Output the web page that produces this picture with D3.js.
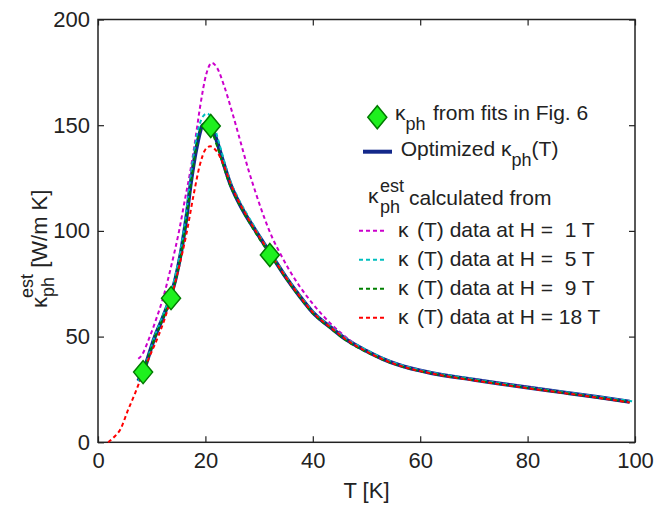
<!DOCTYPE html>
<html>
<head>
<meta charset="utf-8">
<script src="https://cdn.jsdelivr.net/npm/d3@7"></script>
<style>
  body { margin: 0; background: #fff; }
  text { font-family: "Liberation Sans", Arial, Helvetica, sans-serif; fill: #222; }
</style>
</head>
<body>
<div class="chart"></div>
<script>
var width = 669
var height = 505

// temperatures (K) and kappa values (W/m K)
const optT = [7.5, 8.4, 10.6, 12, 13.4, 14.5, 15.6, 16.5, 17.3, 18.4, 19.5, 20.5, 21.8, 23.2, 24.6, 26, 27.5, 29, 30.5, 32.3, 35, 37.6, 40, 43.5, 46, 50, 53, 56, 62, 70, 75, 80, 87, 93, 99]
const optK = [29, 33.4, 50, 58.5, 68, 78, 92, 107, 123, 140, 150, 151, 145, 133.5, 122.5, 114.5, 107.5, 101.5, 95.5, 88.5, 78, 69, 61.5, 54, 49, 43.2, 39.5, 36.6, 32.8, 29.6, 27.7, 25.9, 23.5, 21.4, 19.2]

const h1T = [7.5, 8.1, 9.5, 10.8, 12.2, 13.6, 15.1, 16.2, 17.1, 18, 19, 20.2, 21.2, 22.2, 23.5, 25, 26.5, 28, 29.5, 31, 32.6, 34, 35.5, 37.6, 40, 43.8, 48.2, 51.9, 56, 60, 65, 70, 75, 80, 87, 93, 99]
const h1K = [39.5, 41, 49, 58, 69, 83, 100, 115, 127, 141, 158.5, 174.5, 179.5, 177, 168.5, 156, 142.5, 129, 117, 106, 96, 89, 82, 73.6, 65.5, 55, 46, 40.8, 36.9, 34.1, 31.5, 29.8, 27.9, 26.1, 23.6, 21.5, 19.3]

const h5T = [7.5, 8.4, 10.6, 12, 13.4, 14.5, 15.6, 16.5, 17.3, 18.4, 19.5, 20.3, 21.2, 22.5, 24.6, 26, 27.5, 29, 30.5, 32.3, 35, 37.6, 40, 43.5, 46, 50, 53, 56, 62, 70, 75, 80, 87, 93, 99.5]
const h5K = [29, 33.5, 50.5, 59.5, 69, 80, 94, 110, 127, 145, 154, 155.5, 153, 142, 124, 116, 109, 102.5, 96, 89, 78.5, 69.5, 62, 54.5, 49.5, 43.7, 39.9, 36.9, 33.1, 29.9, 27.9, 26.1, 23.7, 21.6, 19.4]

const h9T = [8, 8.4, 10.6, 12, 13.4, 14.5, 15.6, 16.5, 17.3, 18.4, 19.5, 20.3, 21.2, 22.2, 24.6, 26, 27.5, 29, 30.5, 32.3, 35, 37.6, 40, 43.5, 46, 50, 53, 56, 62, 70, 75, 80, 87, 93, 99]
const h9K = [31, 33.2, 49.5, 58, 67.5, 77, 91, 106, 122, 141, 150, 151, 147, 140, 121.5, 114, 107, 100.5, 94.5, 88, 77.5, 68.5, 61, 53.5, 48.5, 42.7, 39.1, 36.3, 32.6, 29.4, 27.5, 25.7, 23.3, 21.2, 19]

const h18T = [1.9, 3, 4.1, 5.6, 6.9, 8.4, 9.5, 11.2, 12.5, 13.8, 15, 16.5, 17.8, 19, 20, 20.9, 22, 23.6, 24.6, 26, 27.5, 29, 30.5, 32.3, 35, 37.6, 40, 43.5, 46, 50, 53, 56, 62, 70, 75, 80, 87, 93, 99]
const h18K = [0, 2.5, 5.8, 15.3, 23.2, 33, 40, 50, 59, 70, 82, 99, 117, 131.5, 138.5, 140, 138, 130, 123, 115, 108, 101.5, 95.5, 88.5, 78, 69, 61.5, 54, 49, 43, 39.3, 36.4, 32.6, 29.3, 27.4, 25.6, 23.2, 21.1, 18.8]

// kappa_ph from fits
const fitT = [8.4, 13.6, 21.0, 32.0]
const fitK = [33.2, 68.2, 149.6, 88.6]

const xTicks = [0, 20, 40, 60, 80, 100]
const yTicks = [0, 50, 100, 150, 200]

const fieldLabels = ["1", "5", "9", "18"]
const fieldColors = ["#cc00cc", "#00bfbf", "#008000", "#ff0000"]

var svg = d3.select('.chart')
  .append('svg')
  .attr("width", width)
  .attr("height", height)

var x = d3.scaleLinear().domain([0, 100]).range([98, 635])
var y = d3.scaleLinear().domain([0, 200]).range([442.3, 19.5])

function zip(ts, ks) {
  return ts.map((t, i) => ({t: t, k: ks[i]}))
}

var line = d3.line()
  .x(d => x(d.t))
  .y(d => y(d.k))
  .curve(d3.curveMonotoneX)

// axes, ticks pointing inward on all four sides
svg.append("g").attr("transform", "translate(0,442.3)")
  .call(d3.axisBottom(x).tickValues(xTicks).tickSize(-6).tickPadding(10))
svg.append("g").attr("transform", "translate(0,19.5)")
  .call(d3.axisTop(x).tickValues(xTicks).tickSize(-6).tickFormat(""))
svg.append("g").attr("transform", "translate(98,0)")
  .call(d3.axisLeft(y).tickValues(yTicks).tickSize(-6).tickPadding(8))
svg.append("g").attr("transform", "translate(635,0)")
  .call(d3.axisRight(y).tickValues(yTicks).tickSize(-6).tickFormat(""))

svg.selectAll(".domain").remove()
svg.selectAll(".tick line").attr("stroke", "#222").attr("stroke-width", 1.2)
svg.selectAll(".tick text")
  .style("font-size", "22px")
  .attr("fill", "#222")

svg.append("rect")
  .attr("x", x(0)).attr("y", y(200))
  .attr("width", x(100) - x(0)).attr("height", y(0) - y(200))
  .attr("fill", "none").attr("stroke", "#222").attr("stroke-width", 1.5)

// optimized curve
svg.append("path")
  .datum(zip(optT, optK))
  .attr("d", line)
  .attr("fill", "none")
  .attr("stroke", "#13288a")
  .attr("stroke-width", 4)

// estimated curves for each field
var est = [zip(h1T, h1K), zip(h5T, h5K), zip(h9T, h9K), zip(h18T, h18K)]
svg.selectAll("path.est")
  .data(est)
  .enter()
  .append("path")
  .attr("class", "est")
  .attr("d", line)
  .attr("fill", "none")
  .attr("stroke", (d, i) => fieldColors[i])
  .attr("stroke-width", 2)
  .attr("stroke-dasharray", "4,3")

function diamond(cx, cy) {
  return "M" + cx + "," + (cy - 11.5) + "L" + (cx + 9.5) + "," + cy +
    "L" + cx + "," + (cy + 11.5) + "L" + (cx - 9.5) + "," + cy + "Z"
}

svg.selectAll("path.fit")
  .data(zip(fitT, fitK))
  .enter()
  .append("path")
  .attr("class", "fit")
  .attr("d", d => diamond(x(d.t), y(d.k)))
  .attr("fill", "#1ef01e")
  .attr("stroke", "#007a00")
  .attr("stroke-width", 1.5)

// axis labels
svg.append("text")
  .attr("x", (x(0) + x(100)) / 2)
  .attr("y", 498)
  .attr("text-anchor", "middle")
  .style("font-size", "22px")
  .text("T [K]")

var yl = svg.append("text")
  .attr("transform", "translate(46.5,308) rotate(-90)")
  .style("font-size", "22px")
yl.append("tspan").text("κ")
yl.append("tspan").attr("dy", 7).style("font-size", "18px").text("ph")
yl.append("tspan").attr("dx", -21).attr("dy", -21).style("font-size", "18px").text("est")
yl.append("tspan").attr("dy", 14).text(" [W/m K]")

// legend
var lg = svg.append("g").style("font-size", "21px")

lg.append("path")
  .attr("d", diamond(377.3, 117.3))
  .attr("fill", "#1ef01e")
  .attr("stroke", "#007a00")
  .attr("stroke-width", 1.5)
var t1 = lg.append("text").attr("x", 395).attr("y", 120)
t1.append("tspan").text("κ")
t1.append("tspan").attr("dy", 10).style("font-size", "18px").text("ph")
t1.append("tspan").attr("x", 433).attr("y", 120).text("from fits in Fig. 6")

lg.append("line")
  .attr("x1", 363).attr("x2", 392).attr("y1", 151.7).attr("y2", 151.7)
  .attr("stroke", "#13288a").attr("stroke-width", 4)
var t2 = lg.append("text").attr("x", 400.7).attr("y", 155.5)
t2.append("tspan").text("Optimized κ")
t2.append("tspan").attr("dy", 10).style("font-size", "18px").text("ph")
t2.append("tspan").attr("dy", -10).text("(T)")

var t3 = lg.append("text").attr("x", 368).attr("y", 203)
t3.append("tspan").text("κ")
t3.append("tspan").attr("x", 380).attr("y", 191.7).style("font-size", "18px").text("est")
t3.append("tspan").attr("x", 380).attr("y", 213).style("font-size", "18px").text("ph")
t3.append("tspan").attr("x", 409).attr("y", 205).text("calculated from")

var rows = lg.selectAll("g.row")
  .data(fieldLabels)
  .enter()
  .append("g")
  .attr("class", "row")
  .attr("transform", (d, i) => "translate(0," + (230.7 + 29 * i) + ")")
rows.append("line")
  .attr("x1", 359).attr("x2", 386).attr("y1", 0).attr("y2", 0)
  .attr("stroke", (d, i) => fieldColors[i])
  .attr("stroke-width", 2)
  .attr("stroke-dasharray", "4,3")
rows.append("text")
  .attr("x", 398).attr("y", 6)
  .text("κ")
rows.append("text")
  .attr("x", 417).attr("y", 6)
  .attr("xml:space", "preserve")
  .style("white-space", "pre")
  .text(d => "(T) data at H = " + (d.length < 2 ? " " : "") + d + " T")
</script>
</body>
</html>
